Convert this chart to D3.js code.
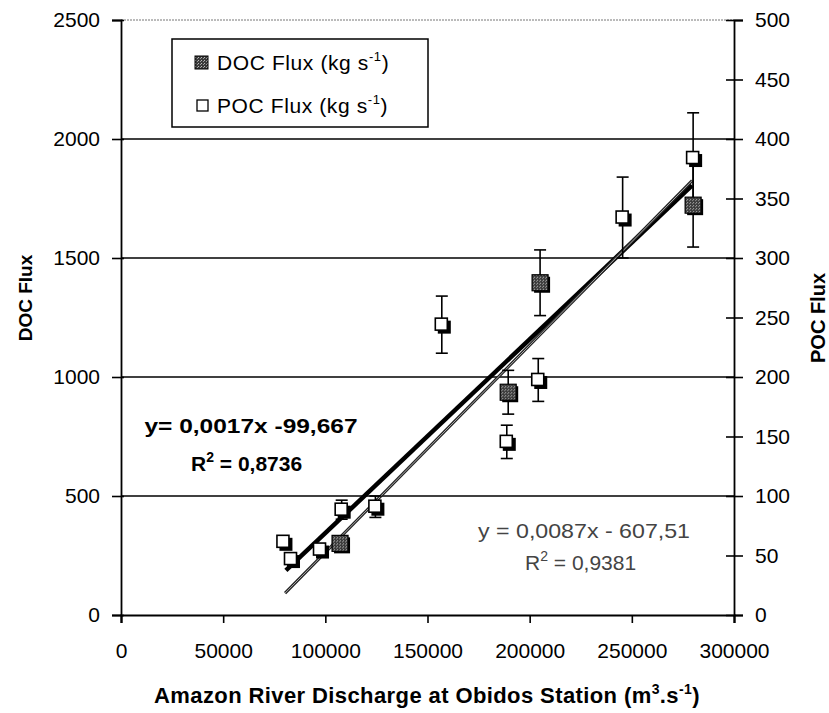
<!DOCTYPE html>
<html>
<head>
<meta charset="utf-8">
<script src="https://cdn.jsdelivr.net/npm/d3@7"></script>
<style>
  body { margin: 0; background: #fff; }
  svg { display: block; font-family: "Liberation Sans", Arial, sans-serif; }
</style>
</head>
<body>
<div id="chart"></div>
<script>
// discharge at Obidos (m3/s) and fluxes
const pocDischarge = [79500, 83200, 97400, 108000, 124500, 157000, 188800, 204200, 245500, 280000];
const pocFlux      = [61.5, 47, 55, 88.5, 91, 244, 145.5, 197.5, 334, 384];
const pocError     = [0, 0, 0, 8, 9, 24, 14, 18, 34, 38];

const docDischarge = [107200, 189500, 205100, 280000];
const docFlux      = [301, 936, 1396, 1722];
const docError     = [0, 92, 138, 176];

// trendline ends (x, y) as drawn in the figure
const docFitX = [80300, 279500];
const docFitY = [92, 1825];
const pocFitX = [80700, 279500];
const pocFitY = [37.5, 361];

const docTicks = [0, 500, 1000, 1500, 2000, 2500];
const pocTicks = [0, 50, 100, 150, 200, 250, 300, 350, 400, 450, 500];
const dischargeTicks = [0, 50000, 100000, 150000, 200000, 250000, 300000];

const width = 829, height = 713;
const svg = d3.select("#chart").append("svg")
    .attr("width", width)
    .attr("height", height);

const x = d3.scaleLinear().domain([0, 300000]).range([121, 734]);
const yDoc = d3.scaleLinear().domain([0, 2500]).range([615, 20]);
const yPoc = d3.scaleLinear().domain([0, 500]).range([615, 20]);

// stippled fill for DOC squares
const pat = svg.append("defs").append("pattern")
    .attr("id", "stipple")
    .attr("width", 3).attr("height", 3)
    .attr("patternUnits", "userSpaceOnUse");
pat.append("rect").attr("width", 3).attr("height", 3).attr("fill", "#3a3a3a");
pat.append("rect").attr("width", 1).attr("height", 1).attr("fill", "#bbb");
pat.append("rect").attr("x", 2).attr("y", 1).attr("width", 1).attr("height", 1).attr("fill", "#999");

// gridlines
svg.append("g")
    .selectAll("line")
    .data(docTicks.filter(d => d > 0 && d < 2500))
    .enter().append("line")
    .attr("x1", x(0)).attr("x2", x(300000))
    .attr("y1", d => yDoc(d)).attr("y2", d => yDoc(d))
    .attr("stroke", "#000").attr("stroke-width", 1.6);

// top border (dotted grey)
svg.append("line")
    .attr("x1", x(0)).attr("x2", x(300000))
    .attr("y1", yDoc(2500)).attr("y2", yDoc(2500))
    .attr("stroke", "#777").attr("stroke-width", 1).attr("stroke-dasharray", "2,1");

// axes
const fmt = d3.format("d");
const leftAxis = svg.append("g")
    .attr("transform", `translate(${x(0)},0)`)
    .call(d3.axisLeft(yDoc).tickValues(docTicks).tickFormat(fmt).tickSize(9).tickPadding(12));
const rightAxis = svg.append("g")
    .attr("transform", `translate(${x(300000)},0)`)
    .call(d3.axisRight(yPoc).tickValues(pocTicks).tickFormat(fmt).tickSize(9).tickPadding(12));
const bottomAxis = svg.append("g")
    .attr("transform", `translate(0,${yDoc(0)})`)
    .call(d3.axisBottom(x).tickValues(dischargeTicks).tickFormat(fmt).tickSize(8).tickPadding(20));

[leftAxis, rightAxis, bottomAxis].forEach(g => {
    g.select(".domain").attr("stroke", "#000").attr("stroke-width", 1.8);
    g.selectAll(".tick line").attr("stroke", "#000").attr("stroke-width", 1.6);
    g.selectAll(".tick text")
        .attr("fill", "#000")
        .style("font-size", "21px")
        .style("font-family", '"Liberation Sans", Arial, sans-serif');
});
// ticks cross the vertical axes
leftAxis.selectAll(".tick line").attr("x2", 3).attr("x1", -9);
rightAxis.selectAll(".tick line").attr("x1", -8).attr("x2", 9);
bottomAxis.select(".domain").attr("stroke-width", 2.2);

// trendlines
svg.append("line")
    .attr("x1", x(pocFitX[0])).attr("y1", yPoc(pocFitY[0]))
    .attr("x2", x(pocFitX[1])).attr("y2", yPoc(pocFitY[1]))
    .attr("stroke", "#000").attr("stroke-width", 4.5);
svg.append("line")
    .attr("x1", x(docFitX[0])).attr("y1", yDoc(docFitY[0]))
    .attr("x2", x(docFitX[1])).attr("y2", yDoc(docFitY[1]))
    .attr("stroke", "#222").attr("stroke-width", 3);
svg.append("line")
    .attr("x1", x(docFitX[0])).attr("y1", yDoc(docFitY[0]))
    .attr("x2", x(docFitX[1])).attr("y2", yDoc(docFitY[1]))
    .attr("stroke", "#aaa").attr("stroke-width", 1);

// error bars
function errorBars(xs, ys, es, yScale) {
    const g = svg.append("g").attr("stroke", "#000").attr("stroke-width", 1.6);
    xs.forEach((d, i) => {
        if (!es[i]) return;
        const cx = x(d), top = yScale(ys[i] + es[i]), bot = yScale(ys[i] - es[i]);
        g.append("line").attr("x1", cx).attr("x2", cx).attr("y1", top).attr("y2", bot);
        g.append("line").attr("x1", cx - 6).attr("x2", cx + 6).attr("y1", top).attr("y2", top);
        g.append("line").attr("x1", cx - 6).attr("x2", cx + 6).attr("y1", bot).attr("y2", bot);
    });
}
errorBars(docDischarge, docFlux, docError, yDoc);
errorBars(pocDischarge, pocFlux, pocError, yPoc);

// DOC markers
const docPts = svg.append("g").selectAll("g")
    .data(docDischarge.map((d, i) => [d, docFlux[i]]))
    .enter().append("g")
    .attr("transform", d => `translate(${x(d[0])},${yDoc(d[1])})`);
docPts.append("rect").attr("x", -6).attr("y", -6).attr("width", 16).attr("height", 16).attr("fill", "#000");
docPts.append("rect").attr("x", -8).attr("y", -8).attr("width", 16).attr("height", 16)
    .attr("fill", "url(#stipple)").attr("stroke", "#000").attr("stroke-width", 1.2);

// POC markers
const pocPts = svg.append("g").selectAll("g")
    .data(pocDischarge.map((d, i) => [d, pocFlux[i]]))
    .enter().append("g")
    .attr("transform", d => `translate(${x(d[0])},${yPoc(d[1])})`);
pocPts.append("rect").attr("x", -4).attr("y", -4).attr("width", 13).attr("height", 13).attr("fill", "#000");
pocPts.append("rect").attr("x", -6.5).attr("y", -6.5).attr("width", 12).attr("height", 12)
    .attr("fill", "#fff").attr("stroke", "#000").attr("stroke-width", 1.6);

// legend
const legend = svg.append("g");
legend.append("rect")
    .attr("x", 172).attr("y", 39).attr("width", 256).attr("height", 88)
    .attr("fill", "#fff").attr("stroke", "#000").attr("stroke-width", 1.5);
legend.append("rect").attr("x", 195).attr("y", 56).attr("width", 13).attr("height", 13)
    .attr("fill", "url(#stipple)").attr("stroke", "#000").attr("stroke-width", 1);
legend.append("rect").attr("x", 197).attr("y", 100).attr("width", 11).attr("height", 11)
    .attr("fill", "#fff").attr("stroke", "#000").attr("stroke-width", 1.3);
const legendLabels = ["DOC Flux (kg s", "POC Flux (kg s"];
legendLabels.forEach((t, i) => {
    const txt = legend.append("text")
        .attr("x", 217).attr("y", 70 + i * 43)
        .style("font-size", "21px")
        .style("letter-spacing", "0.6px")
        .text(t);
    txt.append("tspan").attr("dy", -9).style("font-size", "13px").text("-1");
    txt.append("tspan").attr("dy", 9).text(")");
});

// regression equations
svg.append("text")
    .attr("x", 251).attr("y", 433)
    .attr("text-anchor", "middle")
    .attr("textLength", 213).attr("lengthAdjust", "spacingAndGlyphs")
    .style("font-size", "21px").style("font-weight", "bold")
    .text("y= 0,0017x -99,667");
const r1 = svg.append("text")
    .attr("x", 191).attr("y", 471)
    .style("font-size", "21px").style("font-weight", "bold")
    .text("R");
r1.append("tspan").attr("dy", -9).style("font-size", "14px").text("2");
r1.append("tspan").attr("dy", 9).text(" = 0,8736");

svg.append("text")
    .attr("x", 584).attr("y", 538)
    .attr("text-anchor", "middle")
    .attr("textLength", 212).attr("lengthAdjust", "spacingAndGlyphs")
    .attr("fill", "#444")
    .style("font-size", "21px")
    .text("y = 0,0087x - 607,51");
const r2 = svg.append("text")
    .attr("x", 525).attr("y", 570)
    .attr("fill", "#444")
    .style("font-size", "21px")
    .text("R");
r2.append("tspan").attr("dy", -9).style("font-size", "14px").text("2");
r2.append("tspan").attr("dy", 9).text(" = 0,9381");

// axis titles
svg.append("text")
    .attr("transform", "translate(32,298) rotate(-90)")
    .attr("text-anchor", "middle")
    .style("font-size", "19px").style("font-weight", "bold")
    .text("DOC Flux");
svg.append("text")
    .attr("transform", "translate(825,318) rotate(-90)")
    .attr("text-anchor", "middle")
    .style("font-size", "20px").style("font-weight", "bold")
    .text("POC Flux");

const xt = svg.append("text")
    .attr("x", 427).attr("y", 703)
    .attr("text-anchor", "middle")
    .style("font-size", "22px").style("font-weight", "bold")
    .style("letter-spacing", "0.4px")
    .text("Amazon River Discharge at Obidos Station (m");
xt.append("tspan").attr("dy", -9).style("font-size", "14px").text("3");
xt.append("tspan").attr("dy", 9).text(".s");
xt.append("tspan").attr("dy", -9).style("font-size", "14px").text("-1");
xt.append("tspan").attr("dy", 9).text(")");
</script>
</body>
</html>
